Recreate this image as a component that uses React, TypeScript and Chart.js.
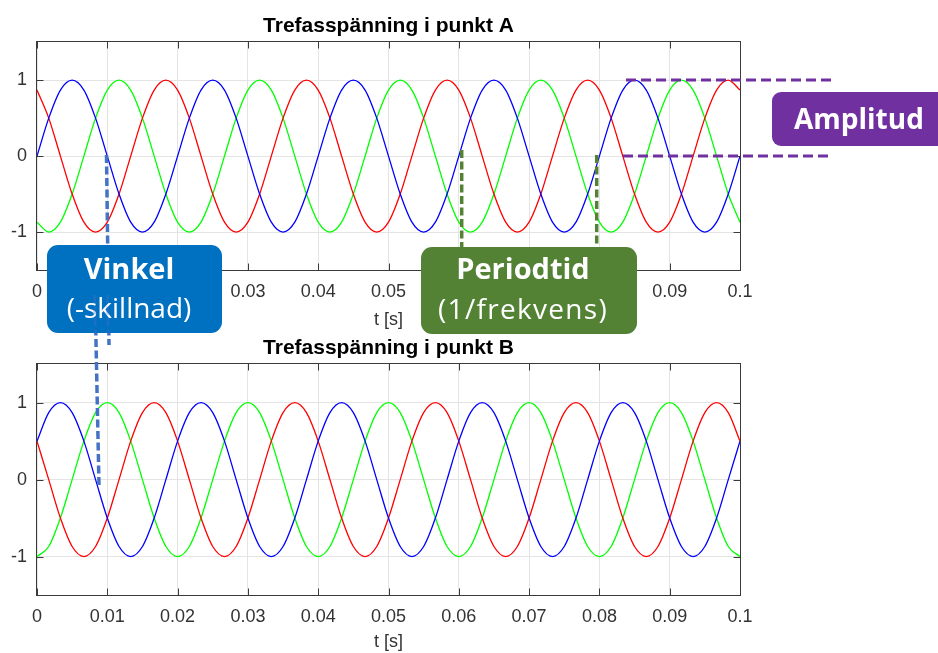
import React, { useEffect, useRef } from "react";
import { Chart, registerables } from "chart.js";

Chart.register(...registerables);

// ---- data ----
const tSamples = [
  0, 0.00167, 0.00333, 0.005, 0.00667, 0.00833,
  0.01, 0.01167, 0.01333, 0.015, 0.01667, 0.01833,
  0.02, 0.02167, 0.02333, 0.025, 0.02667, 0.02833,
  0.03, 0.03167, 0.03333, 0.035, 0.03667, 0.03833,
  0.04, 0.04167, 0.04333, 0.045, 0.04667, 0.04833,
  0.05, 0.05167, 0.05333, 0.055, 0.05667, 0.05833,
  0.06, 0.06167, 0.06333, 0.065, 0.06667, 0.06833,
  0.07, 0.07167, 0.07333, 0.075, 0.07667, 0.07833,
  0.08, 0.08167, 0.08333, 0.085, 0.08667, 0.08833,
  0.09, 0.09167, 0.09333, 0.095, 0.09667, 0.09833,
  0.1,
];

const blueA = [
  0, 0.5, 0.87, 1, 0.87, 0.5,
  0, -0.5, -0.87, -1, -0.87, -0.5,
  0, 0.5, 0.87, 1, 0.87, 0.5,
  0, -0.5, -0.87, -1, -0.87, -0.5,
  0, 0.5, 0.87, 1, 0.87, 0.5,
  0, -0.5, -0.87, -1, -0.87, -0.5,
  0, 0.5, 0.87, 1, 0.87, 0.5,
  0, -0.5, -0.87, -1, -0.87, -0.5,
  0, 0.5, 0.87, 1, 0.87, 0.5,
  0, -0.5, -0.87, -1, -0.87, -0.5,
  0,
];
const redA = [
  0.87, 0.5, 0, -0.5, -0.87, -1,
  -0.87, -0.5, 0, 0.5, 0.87, 1,
  0.87, 0.5, 0, -0.5, -0.87, -1,
  -0.87, -0.5, 0, 0.5, 0.87, 1,
  0.87, 0.5, 0, -0.5, -0.87, -1,
  -0.87, -0.5, 0, 0.5, 0.87, 1,
  0.87, 0.5, 0, -0.5, -0.87, -1,
  -0.87, -0.5, 0, 0.5, 0.87, 1,
  0.87, 0.5, 0, -0.5, -0.87, -1,
  -0.87, -0.5, 0, 0.5, 0.87, 1,
  0.87,
];
const greenA = [
  -0.87, -1, -0.87, -0.5, 0, 0.5,
  0.87, 1, 0.87, 0.5, 0, -0.5,
  -0.87, -1, -0.87, -0.5, 0, 0.5,
  0.87, 1, 0.87, 0.5, 0, -0.5,
  -0.87, -1, -0.87, -0.5, 0, 0.5,
  0.87, 1, 0.87, 0.5, 0, -0.5,
  -0.87, -1, -0.87, -0.5, 0, 0.5,
  0.87, 1, 0.87, 0.5, 0, -0.5,
  -0.87, -1, -0.87, -0.5, 0, 0.5,
  0.87, 1, 0.87, 0.5, 0, -0.5,
  -0.87,
];

const blueB = [
  0.5, 0.87, 1, 0.87, 0.5, 0,
  -0.5, -0.87, -1, -0.87, -0.5, 0,
  0.5, 0.87, 1, 0.87, 0.5, 0,
  -0.5, -0.87, -1, -0.87, -0.5, 0,
  0.5, 0.87, 1, 0.87, 0.5, 0,
  -0.5, -0.87, -1, -0.87, -0.5, 0,
  0.5, 0.87, 1, 0.87, 0.5, 0,
  -0.5, -0.87, -1, -0.87, -0.5, 0,
  0.5, 0.87, 1, 0.87, 0.5, 0,
  -0.5, -0.87, -1, -0.87, -0.5, 0,
  0.5,
];
const redB = [
  0.5, 0, -0.5, -0.87, -1, -0.87,
  -0.5, 0, 0.5, 0.87, 1, 0.87,
  0.5, 0, -0.5, -0.87, -1, -0.87,
  -0.5, 0, 0.5, 0.87, 1, 0.87,
  0.5, 0, -0.5, -0.87, -1, -0.87,
  -0.5, 0, 0.5, 0.87, 1, 0.87,
  0.5, 0, -0.5, -0.87, -1, -0.87,
  -0.5, 0, 0.5, 0.87, 1, 0.87,
  0.5, 0, -0.5, -0.87, -1, -0.87,
  -0.5, 0, 0.5, 0.87, 1, 0.87,
  0.5,
];
const greenB = [
  -1, -0.87, -0.5, 0, 0.5, 0.87,
  1, 0.87, 0.5, 0, -0.5, -0.87,
  -1, -0.87, -0.5, 0, 0.5, 0.87,
  1, 0.87, 0.5, 0, -0.5, -0.87,
  -1, -0.87, -0.5, 0, 0.5, 0.87,
  1, 0.87, 0.5, 0, -0.5, -0.87,
  -1, -0.87, -0.5, 0, 0.5, 0.87,
  1, 0.87, 0.5, 0, -0.5, -0.87,
  -1, -0.87, -0.5, 0, 0.5, 0.87,
  1, 0.87, 0.5, 0, -0.5, -0.87,
  -1,
];

const xTicks = [0, 0.01, 0.02, 0.03, 0.04, 0.05, 0.06, 0.07, 0.08, 0.09, 0.1];
const xTickLabels = ["0", "0.01", "0.02", "0.03", "0.04", "0.05", "0.06", "0.07", "0.08", "0.09", "0.1"];
const yTicks = [-1, 0, 1];
const yTickLabels = ["-1", "0", "1"];

const titleA = "Trefasspänning i punkt A";
const titleB = "Trefasspänning i punkt B";
const xAxisLabel = "t [s]";

const annVinkel = ["Vinkel", "(-skillnad)"];
const annPeriod = ["Periodtid", "(1/frekvens)"];
const annAmplitud = "Amplitud";

// ---- styling ----
const FONT = "'Liberation Sans', Arial, Helvetica, sans-serif";
const ANNOT_FONT = "'Open Sans', 'Noto Sans', sans-serif";
const TEXT_GRAY = "#333333";

const boxPlugin = {
  id: "matlabBox",
  afterDraw(chart: any) {
    const { ctx, chartArea, scales } = chart;
    const L = Math.round(chartArea.left) - 0.5;
    const R = Math.round(chartArea.right) + 0.5;
    const T = Math.round(chartArea.top) - 0.5;
    const B = Math.round(chartArea.bottom) + 0.5;
    ctx.save();
    ctx.strokeStyle = "#3a3a3a";
    ctx.lineWidth = 1;
    ctx.strokeRect(L, T, R - L, B - T);
    const tl = 7;
    ctx.beginPath();
    scales.x.ticks.forEach((t: any) => {
      const px = Math.round(scales.x.getPixelForValue(t.value)) + 0.5;
      ctx.moveTo(px, B);
      ctx.lineTo(px, B - tl);
      ctx.moveTo(px, T);
      ctx.lineTo(px, T + tl);
    });
    scales.y.ticks.forEach((t: any) => {
      const py = Math.round(scales.y.getPixelForValue(t.value)) + 0.5;
      ctx.moveTo(L, py);
      ctx.lineTo(L + tl, py);
      ctx.moveTo(R, py);
      ctx.lineTo(R - tl, py);
    });
    ctx.stroke();
    ctx.restore();
  },
};

function makeConfig(
  title: string,
  blue: number[],
  red: number[],
  green: number[],
  titlePad: { top: number; bottom: number },
  xAxisHeight: number,
  xTitlePadBottom: number
): any {
  const ds = (vals: number[], color: string) => ({
    data: tSamples.map((t, i) => ({ x: t, y: vals[i] })),
    borderColor: color,
    backgroundColor: color,
    borderWidth: 1.3,
    pointRadius: 0,
    fill: false,
    cubicInterpolationMode: "monotone",
  });
  return {
    type: "line",
    data: {
      datasets: [ds(blue, "#0000ff"), ds(red, "#ff0000"), ds(green, "#00ff00")],
    },
    options: {
      responsive: false,
      maintainAspectRatio: false,
      animation: false,
      events: [],
      layout: { padding: { left: 0, right: 198, top: 0, bottom: 0 } },
      plugins: {
        legend: { display: false },
        tooltip: { enabled: false },
        title: {
          display: true,
          text: title,
          fullSize: false,
          color: "#000000",
          font: { family: FONT, size: 21, weight: "bold", lineHeight: 1.2 },
          padding: titlePad,
        },
      },
      scales: {
        x: {
          type: "linear",
          min: 0,
          max: 0.1,
          afterBuildTicks: (s: any) => {
            s.ticks = xTicks.map((v) => ({ value: v }));
          },
          afterFit: (s: any) => {
            s.height = xAxisHeight;
          },
          grid: { color: "#e4e4e4", drawTicks: false, lineWidth: 1 },
          border: { display: false },
          ticks: {
            autoSkip: false,
            maxRotation: 0,
            minRotation: 0,
            padding: 11,
            color: TEXT_GRAY,
            font: { family: FONT, size: 18 },
            callback: (_v: any, i: number) => xTickLabels[i],
          },
          title: {
            display: true,
            text: xAxisLabel,
            color: TEXT_GRAY,
            font: { family: FONT, size: 18 },
            padding: { top: 0, bottom: xTitlePadBottom },
          },
        },
        y: {
          type: "linear",
          min: -1.5,
          max: 1.5,
          afterBuildTicks: (s: any) => {
            s.ticks = yTicks.map((v) => ({ value: v }));
          },
          afterFit: (s: any) => {
            s.width = 37;
          },
          grid: { color: "#e4e4e4", drawTicks: false, lineWidth: 1 },
          border: { display: false },
          ticks: {
            padding: 10,
            color: TEXT_GRAY,
            font: { family: FONT, size: 18 },
            callback: (_v: any, i: number) => yTickLabels[i],
          },
        },
      },
    },
    plugins: [boxPlugin],
  };
}

function Plot(props: { top: number; height: number; config: any }) {
  const ref = useRef<HTMLCanvasElement | null>(null);
  useEffect(() => {
    const chart = new Chart(ref.current as HTMLCanvasElement, props.config);
    return () => chart.destroy();
  }, []);
  return (
    <canvas
      ref={ref}
      width={938}
      height={props.height}
      style={{ position: "absolute", left: 0, top: props.top, width: 938, height: props.height }}
    />
  );
}

const boxBase: React.CSSProperties = {
  position: "absolute",
  color: "#ffffff",
  fontFamily: ANNOT_FONT,
  overflow: "hidden",
};

const lineStyle = (top: number, left: number, width: number, size: number, weight: number, ls = 0): React.CSSProperties => ({
  position: "absolute",
  top,
  left,
  width,
  textAlign: "center",
  fontSize: size,
  fontWeight: weight,
  lineHeight: "34px",
  whiteSpace: "nowrap",
  letterSpacing: ls,
});

export default function App() {
  const configA = makeConfig(titleA, blueA, redA, greenA, { top: 14, bottom: 3 }, 65, 4);
  const configB = makeConfig(titleB, blueB, redB, greenB, { top: 1, bottom: 3 }, 58, 0);
  return (
    <div
      style={{
        position: "absolute",
        left: 0,
        top: 0,
        width: 938,
        height: 653,
        overflow: "hidden",
        background: "#ffffff",
      }}
    >
      <Plot top={0} height={335} config={configA} />
      <Plot top={335} height={318} config={configB} />

      {/* dashed guide lines (behind the boxes) */}
      <svg width={938} height={653} style={{ position: "absolute", left: 0, top: 0 }}>
        <g stroke="#7030A0" strokeWidth={3} strokeDasharray="10 5" fill="none">
          <line x1={626} y1={80} x2={835} y2={80} />
          <line x1={623} y1={156} x2={832} y2={156} />
        </g>
        <g stroke="#548235" strokeWidth={3.5} strokeDasharray="8 3.5" fill="none">
          <line x1={461.7} y1={150} x2={461.7} y2={250} />
          <line x1={596.7} y1={155} x2={596.7} y2={250} />
        </g>
        <g stroke="#4472C4" strokeWidth={3.5} strokeDasharray="8 3.5" fill="none">
          <line x1={106.5} y1={155} x2={109} y2={345} />
          <line x1={95} y1={293} x2={99} y2={486} />
        </g>
      </svg>

      {/* Vinkel box */}
      <div style={{ ...boxBase, left: 47, top: 245, width: 175, height: 88, borderRadius: 11, background: "#0070C0" }}>
        <div style={lineStyle(6, 0, 164, 29, 700)}>{annVinkel[0]}</div>
        <div style={lineStyle(45, 0, 164, 28, 400)}>{annVinkel[1]}</div>
      </div>

      {/* Periodtid box */}
      <div style={{ ...boxBase, left: 421, top: 247, width: 216, height: 87, borderRadius: 11, background: "#548235" }}>
        <div style={lineStyle(4, 0, 204, 29, 700)}>{annPeriod[0]}</div>
        <div style={lineStyle(44, 0, 204, 28, 400, 1.3)}>{annPeriod[1]}</div>
      </div>

      {/* Amplitud box */}
      <div style={{ ...boxBase, left: 772, top: 91.5, width: 200, height: 54, borderRadius: 9, background: "#7030A0" }}>
        <div style={{ ...lineStyle(9, 22, 136, 28, 700), textAlign: "left" }}>{annAmplitud}</div>
      </div>

      {/* faint lines showing through the Vinkel box */}
      <svg width={938} height={653} style={{ position: "absolute", left: 0, top: 0, opacity: 0.35 }}>
        <g stroke="#4472C4" strokeWidth={3} strokeDasharray="8 3.5" fill="none">
          <line x1={94.5} y1={295} x2={95.5} y2={333} />
          <line x1={107.5} y1={295} x2={108} y2={333} />
        </g>
      </svg>
    </div>
  );
}
